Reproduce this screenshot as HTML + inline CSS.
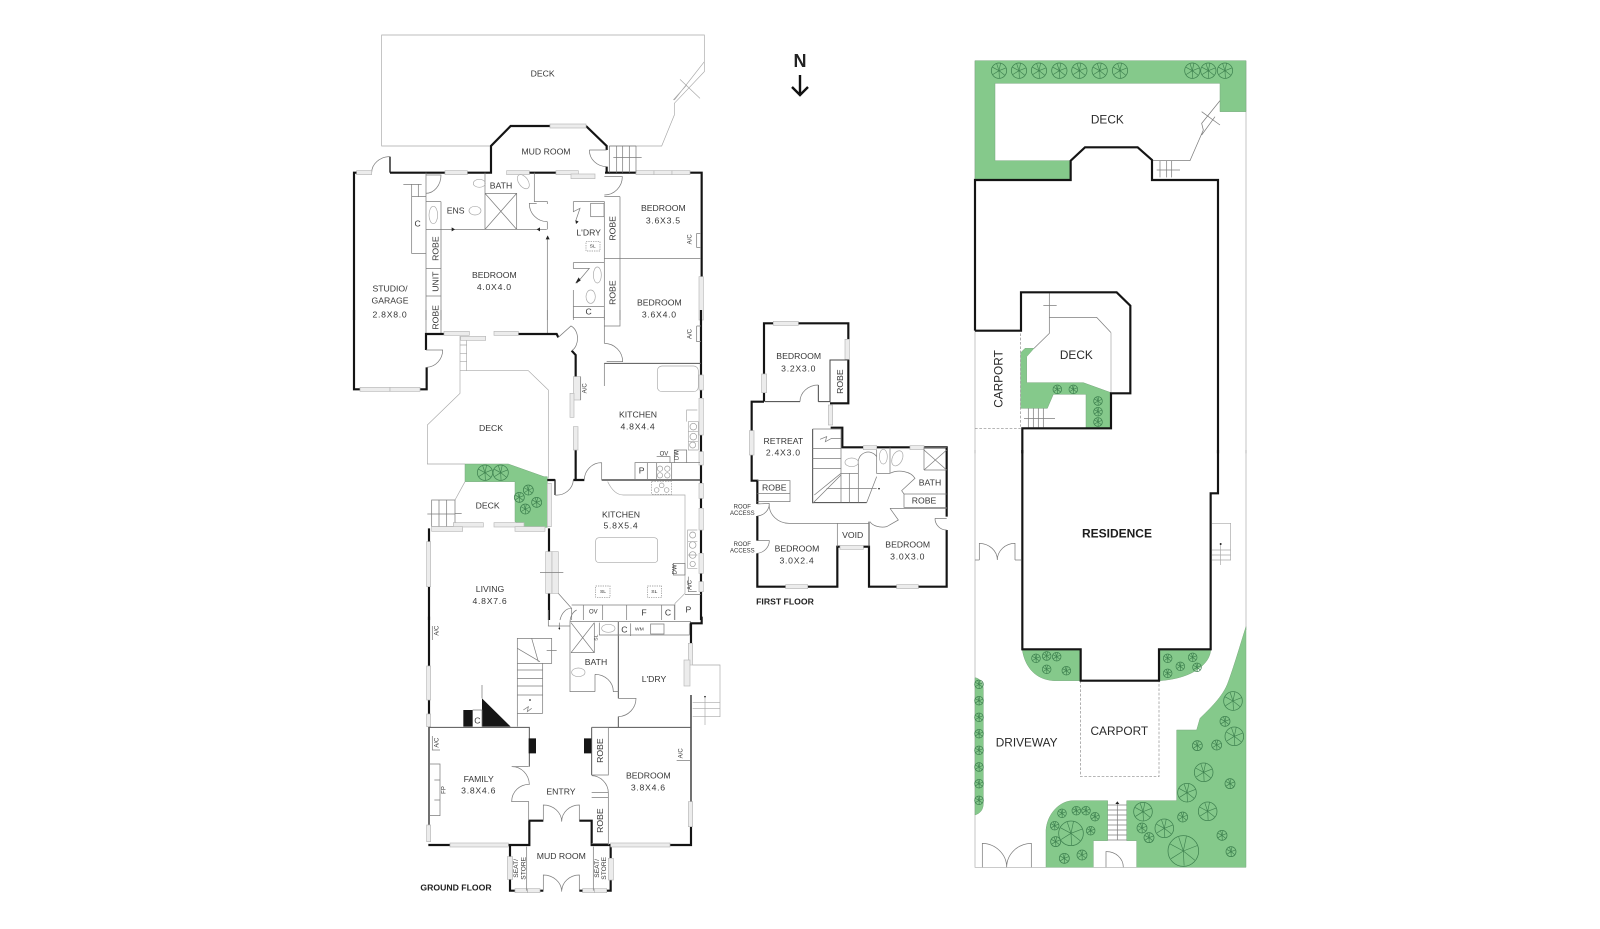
<!DOCTYPE html>
<html><head><meta charset="utf-8"><style>
html,body{margin:0;padding:0;background:#fff;width:1600px;height:929px;overflow:hidden}
svg{display:block}
text{font-family:"Liberation Sans",sans-serif;font-size:26px;fill:#363636;text-anchor:middle;dominant-baseline:central}
.n{letter-spacing:2.2px}
.b{font-weight:bold;fill:#222}
.s{font-size:18px}.xs{font-size:15px}.m{font-size:20px}
.L{font-size:35.5px;fill:#2a2a2a}
.w{fill:none;stroke:#141414;stroke-width:6.5;stroke-linejoin:miter}
.t{fill:none;stroke:#2a2a2a;stroke-width:4}
.h{fill:none;stroke:#7d7d7d;stroke-width:2.2}
.l{fill:none;stroke:#a8a8a8;stroke-width:2}
.d{fill:none;stroke:#8a8a8a;stroke-width:2;stroke-dasharray:8 5}
.win{fill:#ececec;stroke:#b8b8b8;stroke-width:2}
.g{fill:#85c98b;stroke:#79a87d;stroke-width:1.5}
.k{fill:#161616}
</style></head><body>
<svg width="1600" height="929" viewBox="0 0 1600 929" xmlns="http://www.w3.org/2000/svg">
<defs>
<g id="s"><circle r="1" fill="none" stroke="#3f8250" vector-effect="non-scaling-stroke" stroke-width=".75"/><path d="M0 0L.2-.95M0 0L.9-.35M0 0L.75.6M0 0L.05.95M0 0L-.8.5M0 0L-.85-.45M0 0L-.3-.9" fill="none" stroke="#3f8250" vector-effect="non-scaling-stroke" stroke-width=".65"/></g>
<use id="a" href="#s" transform="scale(13)"/>
<use id="c" href="#s" transform="scale(15)"/>
<use id="e" href="#s" transform="scale(23)"/>
<use id="f" href="#s" transform="scale(28)"/>
<use id="i" href="#s" transform="scale(37)"/>
<use id="j" href="#s" transform="scale(46)"/>
</defs>

<!-- NORTH -->
<text x="800" y="61" style="font-size:18px;font-weight:bold;fill:#222">N</text>
<path d="M800 75V94M792 87L800 95L808 87" fill="none" stroke="#111" stroke-width="2.4"/>

<!-- Z1 upper ground floor -->
<g transform="translate(340,20) scale(.33333)">
<path class="l" d="M450 378H125V45H1093V155L1003 250V285L965 378H808M1093 125L1003 240M1020 178L1080 235M1040 195L1000 240"/>
<path class="w" d="M42 900V458H50M150 458H315M382 458H435M435 458H453V378L512 318H630M738 318L800 378V390M800 440V458M568 458H648M795 458H888M1050 458H1085V770"/>
<path class="w" style="stroke-width:4" d="M150 458V410"/>
<path class="h" d="M150 410A55 48 0 0 0 95 458M748 390H800M748 390A52 50 0 0 0 800 440"/>
<rect class="win" x="50" y="452" width="45" height="12"/><rect class="win" x="315" y="452" width="67" height="12"/><rect class="win" x="500" y="452" width="68" height="12"/><rect class="win" x="648" y="452" width="67" height="12"/><rect class="win" x="693" y="462" width="72" height="14"/><rect class="win" x="888" y="452" width="54" height="12"/><rect class="win" x="942" y="452" width="54" height="12"/><rect class="win" x="996" y="452" width="54" height="12"/><rect class="win" x="630" y="312" width="108" height="12"/><rect class="win" x="1077" y="770" width="13" height="130"/>
<path class="h" d="M808 378V458M830 378V458M848 378V458M868 378V458M888 378V458M808 378H888M820 413H905"/>
<path class="h" d="M435 458V628M435 520H530V628M435 520L530 628M530 520L435 628M583 458V545H622V552M622 605V628M622 605A54 54 0 0 1 568 550H590M303 628H620"/>
<path class="d" d="M303 628H620"/>
<path class="h" d="M622 650V900M215 492V700H258M215 530H258M258 465H303A46 55 0 0 1 257 520M258 458V900M303 545V900M258 545H303M258 628H303M258 745H303M258 828H303M190 493H245M235 492V530"/>
<path class="h" d="M700 545H793V900M700 545V575L720 565L708 600M840 530V900M793 530H840M793 470H847A54 55 0 0 1 793 525M793 715H1083"/>
<path class="h" d="M700 728H793M700 728V745H748L710 790M700 810V900M700 860H793M1070 640H1083M1070 640V682H1083"/>
<rect class="h" x="752" y="550" width="40" height="40"/><rect class="d" x="738" y="665" width="42" height="28" style="stroke-dasharray:4 3"/>
<ellipse class="l" cx="418" cy="490" rx="18" ry="12"/><ellipse class="l" cx="405" cy="572" rx="18" ry="13"/><ellipse class="l" cx="280" cy="585" rx="13" ry="26"/><ellipse class="l" cx="550" cy="485" rx="14" ry="24" transform="rotate(-35 550 485)"/><ellipse class="l" cx="772" cy="765" rx="12" ry="24"/><ellipse class="l" cx="752" cy="830" rx="14" ry="20"/>
<path d="M335 622L345 628L335 634ZM600 622L590 628L600 634ZM617 658L623 646L629 658Z" fill="#222"/>
<path d="M706 790L716 772L722 782ZM706 600L716 605L708 612Z" fill="#222"/>
<text x="608" y="161">DECK</text><text x="618" y="395">MUD ROOM</text><text x="347" y="571">ENS</text><text x="483" y="497">BATH</text>
<text x="970" y="564">BEDROOM</text><text class="n" x="970" y="601">3.6X3.5</text><text x="746" y="638">L'DRY</text><text class="xs" x="758" y="679">SL</text>
<text x="233" y="611">C</text><text x="746" y="875">C</text>
<text x="463" y="765">BEDROOM</text><text class="n" x="463" y="801">4.0X4.0</text>
<text x="150" y="805">STUDIO/</text><text x="150" y="841">GARAGE</text><text class="n" x="150" y="884">2.8X8.0</text>
<text x="958" y="847">BEDROOM</text><text class="n" x="958" y="883">3.6X4.0</text>
<text transform="translate(817,625) rotate(-90)">ROBE</text><text transform="translate(817,818) rotate(-90)">ROBE</text><text transform="translate(287,686) rotate(-90)">ROBE</text><text transform="translate(287,785) rotate(-90)">UNIT</text>
<text class="s" transform="translate(1052,658) rotate(-90)">A/C</text>
</g>

<!-- Z2 middle ground floor -->
<g transform="translate(340,310) scale(.33333)">
<path class="g" d="M375 462H505L612 500H622V652H555L525 635V515H375Z"/>
<g><use href="#e" x="435" y="488"/><use href="#e" x="482" y="488"/><use href="#c" x="565" y="540"/><use href="#c" x="538" y="562"/><use href="#c" x="590" y="577"/><use href="#c" x="556" y="597"/></g>
<path class="l" d="M360 78V250L262 345V462H375M360 182H565L625 240V505M380 85V182M360 105H380M360 130H380M360 155H380M375 515L345 570"/>
<path class="h" d="M275 570H345V650H275ZM275 570V650M297 570V650M320 570V650M262 612H345M345 610H365M348 637V650"/>
<path class="h" d="M258 0V72M303 0V72M622 0V72M700 0V22H793"/>
<text transform="translate(287,22) rotate(-90)">ROBE</text>
<path class="w" d="M42 0V238H60M240 238H260V172M258 120V72H312M535 72H650L655 82M695 122L707 135V200M707 420V510H700M645 510H622M707 510H733M1083 0V195M1083 240V265M1083 375V425M1083 465V520M1083 565V595M1083 660V730M1083 790V815M1083 845V930M627 655V725M627 850V930M267 655V695M267 830V930"/>
<path class="t" d="M785 510H1083M645 508V555"/>
<path class="h" d="M785 510V458M260 172A50 52 0 0 0 308 120H258M655 82L693 48A30 40 0 0 1 695 122M645 555A50 48 0 0 0 700 510M733 510A52 52 0 0 1 785 458M793 0V100M793 160V228M793 100A55 55 0 0 1 848 155H800M793 48H840V0"/>
<path style="fill:none;stroke:#555;stroke-width:3" d="M793 160H1083"/>
<rect class="win" x="60" y="232" width="90" height="12"/><rect class="win" x="150" y="232" width="90" height="12"/><rect class="win" x="312" y="64" width="76" height="12"/><rect class="win" x="362" y="79" width="75" height="12"/><rect class="win" x="462" y="64" width="73" height="12"/><rect class="win" x="700" y="200" width="22" height="70"/><rect class="win" x="690" y="250" width="12" height="72"/><rect class="win" x="700" y="350" width="14" height="70"/><rect class="win" x="622" y="520" width="12" height="130"/><rect class="win" x="340" y="638" width="90" height="13"/><rect class="win" x="462" y="638" width="90" height="13"/><rect class="win" x="525" y="650" width="90" height="14"/><rect class="win" x="275" y="650" width="93" height="14"/><rect class="win" x="617" y="725" width="19" height="125"/><rect class="win" x="636" y="725" width="19" height="125"/><rect class="win" x="260" y="695" width="12" height="135"/>
<rect class="win" x="1077" y="195" width="13" height="45"/><rect class="win" x="1077" y="265" width="13" height="110"/><rect class="win" x="1077" y="425" width="13" height="40"/><rect class="win" x="1077" y="520" width="13" height="45"/><rect class="win" x="1077" y="595" width="13" height="65"/><rect class="win" x="1077" y="730" width="13" height="60"/><rect class="win" x="1077" y="815" width="13" height="30"/>
<path class="h" d="M1070 48H1083M1070 48V95H1083M600 787H670M722 200V270"/>
<rect class="l" x="952" y="168" width="123" height="77" rx="14"/>
<path class="l" d="M1072 300H1040V335M1045 335H1075V420H1045ZM1045 365H1075M1045 395H1075M1072 660H1043V775H1072M1043 695H1072M1043 735H1072"/>
<path class="h" d="M1003 420H1040V458M1003 420V458M950 440H990V458M885 510V458H1080M922 458V510M950 458V510M995 458V510M1045 800V845H1070"/>
<g fill="none" stroke="#999" stroke-width="2"><circle cx="960" cy="476" r="8"/><circle cx="982" cy="476" r="8"/><circle cx="960" cy="496" r="8"/><circle cx="982" cy="496" r="8"/><rect x="935" y="515" width="60" height="38" stroke-dasharray="5 3"/><circle cx="950" cy="540" r="7"/><circle cx="965" cy="526" r="7"/><circle cx="980" cy="540" r="7"/><circle cx="1060" cy="350" r="10"/><circle cx="1060" cy="380" r="10"/><circle cx="1058" cy="405" r="9"/><circle cx="1058" cy="675" r="9"/><circle cx="1058" cy="705" r="10"/><circle cx="1058" cy="735" r="10"/><circle cx="1058" cy="762" r="8"/></g>
<path class="l" d="M803 515C815 540 830 555 850 555H1035V850L1005 880V930"/>
<rect class="l" x="767" y="683" width="186" height="75" rx="10"/>
<path class="h" d="M1035 853H1083M1000 760H1035V795H1000ZM655 850L695 895V930M695 885H1005M730 885V930M788 885V930M860 885V930M965 885V930M1003 885V930M660 930A35 50 0 0 1 695 895"/>
<rect class="d" x="767" y="828" width="43" height="34" style="stroke-dasharray:4 3"/><rect class="d" x="922" y="828" width="43" height="34" style="stroke-dasharray:4 3"/>
<text class="xs" x="789" y="846">SL</text><text class="xs" x="943" y="846">SL</text>
<text x="453" y="354">DECK</text><text x="894" y="313">KITCHEN</text><text class="n" x="894" y="350">4.8X4.4</text><text x="443" y="586">DECK</text>
<text x="843" y="614">KITCHEN</text><text class="n" x="843" y="646">5.8X5.4</text><text x="450" y="837">LIVING</text><text class="n" x="450" y="873">4.8X7.6</text>
<text class="s" x="972" y="433">OV</text><text class="s" transform="translate(1013,435) rotate(-90)">DW</text><text class="s" transform="translate(1007,778) rotate(-90)">DW</text><text class="s" transform="translate(1052,825) rotate(-90)">A/C</text><text class="s" transform="translate(736,235) rotate(-90)">A/C</text><text class="s" transform="translate(1052,72) rotate(-90)">A/C</text>
<text x="905" y="482">P</text><text class="s" x="760" y="908">OV</text><text x="912" y="908">F</text><text x="984" y="908">C</text><text x="1045" y="898">P</text>
</g>

<!-- Z3 lower ground floor -->
<g transform="translate(400,610) scale(.33333)">
<path class="w" d="M87 20V168M87 270V312M85 705H150M325 705H388V632H430M538 632H575V705H632M810 705H873V650M873 100V40H905V20M330 705V740M330 808V842H345M420 842H430M538 842H548M620 842H632V810M632 745V705"/>
<path class="t" d="M87 350V645M873 575V255"/>
<rect class="win" x="80" y="168" width="12" height="102"/><rect class="win" x="80" y="312" width="12" height="38"/><rect class="win" x="80" y="645" width="12" height="50"/><rect class="win" x="150" y="699" width="175" height="12"/><rect class="win" x="632" y="699" width="178" height="12"/><rect class="win" x="865" y="575" width="13" height="75"/><rect class="win" x="865" y="100" width="13" height="65"/><rect class="win" x="852" y="150" width="18" height="78"/><rect class="win" x="322" y="740" width="16" height="68"/><rect class="win" x="625" y="745" width="15" height="65"/><rect class="win" x="345" y="836" width="37" height="12"/><rect class="win" x="383" y="836" width="37" height="12"/><rect class="win" x="548" y="836" width="36" height="12"/><rect class="win" x="584" y="836" width="36" height="12"/>
<path style="fill:none;stroke:#555;stroke-width:3" d="M87 352H388V470M575 352H873M575 352V495M655 35V265M655 320V352"/>
<path class="h" d="M386 470H335A52 55 0 0 1 388 523A52 52 0 0 0 335 575H386V632M430 632V585A55 50 0 0 1 485 635A53 50 0 0 1 538 585V632M430 842V795A55 50 0 0 1 485 845A53 50 0 0 1 538 795V842"/>
<path class="h" d="M380 710V842M580 710V842M90 462H120V617H90M103 510H120V570H103M97 378V420H120M97 48V90M830 452H870"/>
<path class="k" d="M190 300H218V350H190ZM246 265L332 350H246ZM386 385H408V430H386ZM552 385H574V430H552Z"/>
<path class="h" d="M218 300H246V350M246 225V265"/>
<path class="h" d="M575 352H625V495H575M575 497A52 52 0 0 1 625 548H575M575 562H625V700H575M625 548V562M625 700V705"/>
<path class="h" d="M655 265H708A55 55 0 0 1 655 320M510 35H873M510 35V245H585M585 193A55 52 0 0 1 640 245H655M585 193V245M513 128H583V38M513 38L583 128M583 38L513 128M598 38V75H868V40M655 35V78M692 40V78M752 42H792V72H752Z"/>
<path class="h" d="M352 350V85H455V160H428V310M352 160H428M352 180H428M352 205H428M352 228H428M352 255H428M395 85L415 155M352 115L420 155M440 122H470M370 300L385 290L382 305L395 295M352 310H428"/>
<path class="h" d="M445 0V48H510M478 38V60M510 35A30 40 0 0 1 530 0"/>
<path class="l" d="M878 165H960V320H878M878 277H960M878 295H960M915 258V345"/>
<ellipse class="l" cx="535" cy="187" rx="20" ry="13"/><ellipse class="l" cx="625" cy="55" rx="20" ry="12"/>
<circle cx="390" cy="270" r="2.5" fill="#222"/><circle cx="915" cy="260" r="2.5" fill="#222"/><circle cx="478" cy="55" r="2.5" fill="#222"/>
<text x="236" y="507">FAMILY</text><text class="n" x="236" y="542">3.8X4.6</text><text x="483" y="545">ENTRY</text>
<text x="745" y="497">BEDROOM</text><text class="n" x="745" y="532">3.8X4.6</text><text x="762" y="207">L'DRY</text><text x="588" y="156">BATH</text><text x="484" y="738">MUD ROOM</text>
<text class="b" x="168" y="832">GROUND FLOOR</text>
<text class="m" transform="translate(350,775) rotate(-90)">SEAT/</text><text class="m" transform="translate(372,775) rotate(-90)">STORE</text><text class="m" transform="translate(592,775) rotate(-90)">SEAT/</text><text class="m" transform="translate(613,775) rotate(-90)">STORE</text>
<text transform="translate(600,422) rotate(-90)">ROBE</text><text transform="translate(600,632) rotate(-90)">ROBE</text>
<text class="s" transform="translate(113,62) rotate(-90)">A/C</text><text class="s" transform="translate(113,398) rotate(-90)">A/C</text><text class="s" transform="translate(845,430) rotate(-90)">A/C</text><text class="s" transform="translate(133,540) rotate(-90)">FP</text>
<text x="232" y="332">C</text><text x="673" y="58">C</text><text class="xs" x="718" y="58">WM</text><text class="xs" transform="translate(590,83) rotate(-90)">SL</text>
</g>

<!-- Z4 first floor -->
<g transform="translate(720,300) scale(.33333)">
<path class="w" d="M132 300V222M132 278V70H160M235 70H385V118M385 178V310H330M132 305H95V392M95 465V542H112V612M112 648V722M112 760V860H197M263 860H352V740H360M430 740H447V860H530M595 860H680V690M680 650V442H612M570 442H470M430 442H367V383H332M132 305V280"/>
<rect class="win" x="160" y="64" width="75" height="12"/><rect class="win" x="375" y="118" width="13" height="60"/><rect class="win" x="125" y="222" width="15" height="56"/><rect class="win" x="88" y="392" width="14" height="73"/><rect class="win" x="197" y="854" width="66" height="12"/><rect class="win" x="360" y="736" width="70" height="12"/><rect class="win" x="530" y="854" width="65" height="12"/><rect class="win" x="570" y="437" width="42" height="12"/><rect class="win" x="430" y="437" width="40" height="12"/><rect class="win" x="325" y="315" width="13" height="60"/>
<path style="fill:none;stroke:#444;stroke-width:3" d="M135 305H240M295 305H330V180H385M295 255V305M278 387V608H440M447 740V665"/>
<path class="h" d="M295 255A55 50 0 0 0 240 305M112 542H210V605H112M112 580H210M112 612L148 610M112 648A38 38 0 0 0 148 610M148 610A60 55 0 0 0 210 670H352M352 670V740M112 722H148A40 38 0 0 1 110 760M352 670H447"/>
<path class="h" d="M278 387H363V520M278 445H363M278 475H363M278 505H363M283 585L363 520M278 610L363 525M363 520V608M388 520V608M415 520V608M320 565H470M363 520H415M470 530L440 608M415 520V490A30 30 0 0 1 470 470V520H510M470 450V520M510 442V520M612 442V510M612 510H680M612 442H680M612 450L680 510M680 450L612 510"/>
<path class="h" d="M510 520A50 35 0 0 1 585 535L545 572L552 582H680M552 582V622H680M510 625L535 660L500 680A40 25 0 0 1 450 665M510 625H680M645 655A35 35 0 0 0 680 690M645 655H680M300 418L320 410L316 425L335 415H363"/>
<ellipse class="l" cx="395" cy="487" rx="20" ry="13"/><ellipse class="l" cx="490" cy="470" rx="12" ry="22"/><ellipse class="l" cx="532" cy="475" rx="15" ry="24" transform="rotate(25 532 475)"/>
<circle cx="477" cy="566" r="2.5" fill="#222"/>
<text x="236" y="168">BEDROOM</text><text class="n" x="236" y="205">3.2X3.0</text><text transform="translate(360,245) rotate(-90)">ROBE</text>
<text x="190" y="423">RETREAT</text><text class="n" x="190" y="458">2.4X3.0</text><text x="163" y="563">ROBE</text><text x="630" y="547">BATH</text><text x="612" y="602">ROBE</text><text x="398" y="705">VOID</text>
<text x="563" y="733">BEDROOM</text><text class="n" x="563" y="769">3.0X3.0</text><text x="231" y="746">BEDROOM</text><text class="n" x="231" y="782">3.0X2.4</text>
<text class="s" x="67" y="622">ROOF</text><text class="s" x="67" y="642">ACCESS</text><text class="s" x="67" y="735">ROOF</text><text class="s" x="67" y="755">ACCESS</text>
<text class="b" x="195" y="905">FIRST FLOOR</text>
</g>

<!-- Z5 site upper -->
<g transform="translate(960,40) scale(.33333)">
<path class="l" style="stroke:#aaa" d="M45 62V1240M858 62V1240"/>
<path class="g" d="M45 62H858V215H780V130H105V362H332V420H45Z"/>
<g><use href="#e" x="117" y="92"/><use href="#e" x="177" y="92"/><use href="#e" x="237" y="92"/><use href="#e" x="298" y="92"/><use href="#e" x="358" y="92"/><use href="#e" x="419" y="92"/><use href="#e" x="480" y="92"/><use href="#e" x="697" y="92"/><use href="#e" x="745" y="92"/><use href="#e" x="795" y="92"/></g>
<path class="h" d="M780 182L725 250L730 270L690 362H578M725 215L780 255M765 230L725 285M600 362V412M620 362V412M635 362V412M590 390H660"/>
<path class="g" d="M182 938L195 925H222L200 950V1028H370L453 1058V1165H378V1063H280L262 1105H182Z"/>
<g><use href="#a" x="292" y="1048"/><use href="#a" x="340" y="1048"/><use href="#a" x="414" y="1083"/><use href="#a" x="414" y="1115"/><use href="#a" x="414" y="1146"/></g>
<path class="h" d="M268 760V880L222 925M268 832H410L453 878M250 797H290M192 1135H285M205 1105V1162M220 1105V1162M235 1105V1162M250 1105V1162"/>
<path d="M453 878V1058" fill="none" stroke="#c2c2c2" stroke-width="3"/>
<path class="d" d="M182 880V1160M45 1165H182"/>
<path class="w" d="M45 872V420H332V362L375 322H533L576 360V420H774V1240M45 872H183V757H470L511 797V1060H453V1165H187V1240"/>
<text class="L" x="442" y="238">DECK</text><text class="L" x="349" y="945">DECK</text><text class="L" transform="translate(115,1017) rotate(-90)">CARPORT</text>
</g>

<!-- Z6 site lower -->
<g transform="translate(960,450) scale(.33333)">
<path class="l" style="stroke:#aaa" d="M45 0V1252H258M400 1252H530M214 1252H258M858 0V540"/>
<path class="g" d="M187 600H360V692H280C225 688 195 650 187 600Z"/>
<path class="g" d="M600 600H752C750 640 700 685 600 692Z"/>
<path class="g" d="M45 683C60 685 70 700 70 720V1060C70 1080 60 1090 45 1095Z"/>
<path class="g" d="M858 530C845 570 825 640 805 695C790 740 745 780 720 805L710 840H650V1052H500V1172H530V1252H858Z"/>
<path class="g" d="M258 1252V1140C262 1090 300 1052 340 1052H443V1172H400V1252Z"/>
<g><use href="#a" x="228" y="625"/><use href="#a" x="260" y="618"/><use href="#a" x="290" y="620"/><use href="#a" x="260" y="658"/><use href="#a" x="319" y="662"/><use href="#a" x="623" y="625"/><use href="#a" x="698" y="622"/><use href="#a" x="661" y="649"/><use href="#a" x="711" y="652"/><use href="#a" x="623" y="670"/>
<use href="#a" x="57" y="703"/><use href="#a" x="57" y="752"/><use href="#a" x="57" y="802"/><use href="#a" x="57" y="851"/><use href="#a" x="57" y="901"/><use href="#a" x="57" y="951"/><use href="#a" x="57" y="1001"/><use href="#a" x="57" y="1051"/>
<use href="#f" x="819" y="753"/><use href="#f" x="823" y="859"/><use href="#f" x="731" y="967"/><use href="#f" x="681" y="1028"/><use href="#f" x="743" y="1084"/><use href="#f" x="549" y="1085"/><use href="#f" x="613" y="1135"/><use href="#j" x="670" y="1203"/><use href="#i" x="333" y="1150"/>
<use href="#c" x="795" y="814"/><use href="#c" x="712" y="887"/><use href="#c" x="770" y="885"/><use href="#c" x="810" y="1001"/><use href="#c" x="668" y="1101"/><use href="#c" x="546" y="1134"/><use href="#c" x="567" y="1163"/><use href="#c" x="786" y="1156"/><use href="#c" x="813" y="1205"/>
<use href="#a" x="306" y="1090"/><use href="#a" x="349" y="1082"/><use href="#a" x="378" y="1082"/><use href="#a" x="405" y="1100"/><use href="#a" x="284" y="1127"/><use href="#a" x="392" y="1142"/><use href="#c" x="287" y="1175"/><use href="#c" x="366" y="1215"/><use href="#c" x="313" y="1225"/></g>
<path class="h" d="M472 1055V1170M443 1065H500M443 1080H500M443 1095H500M443 1110H500M443 1125H500M443 1140H500M443 1155H500M443 1170H500M438 1252V1205A50 47 0 0 1 490 1252"/>
<path class="h" d="M67 1252V1180A75 72 0 0 1 140 1252A75 72 0 0 1 214 1180V1252M58 330V280A55 50 0 0 1 112 330A53 50 0 0 1 165 280V330M45 330H58M165 330H183"/>
<path class="l" d="M756 220H812V330H756M756 300H812M756 315H812M782 280V345"/>
<path class="d" d="M362 692V980H597V692"/>
<path class="w" d="M187 0V598H362V692H597V598H752V130H774V0"/>
<circle cx="782" cy="282" r="3" fill="#222"/><path d="M466 1062L472 1054L478 1062Z" fill="#222"/>
<text class="L b" style="font-size:36px;fill:#1d1d1d" x="471" y="250">RESIDENCE</text>
<text class="L" x="478" y="843">CARPORT</text><text class="L" x="200" y="878">DRIVEWAY</text>
</g>
</svg>
</body></html>
